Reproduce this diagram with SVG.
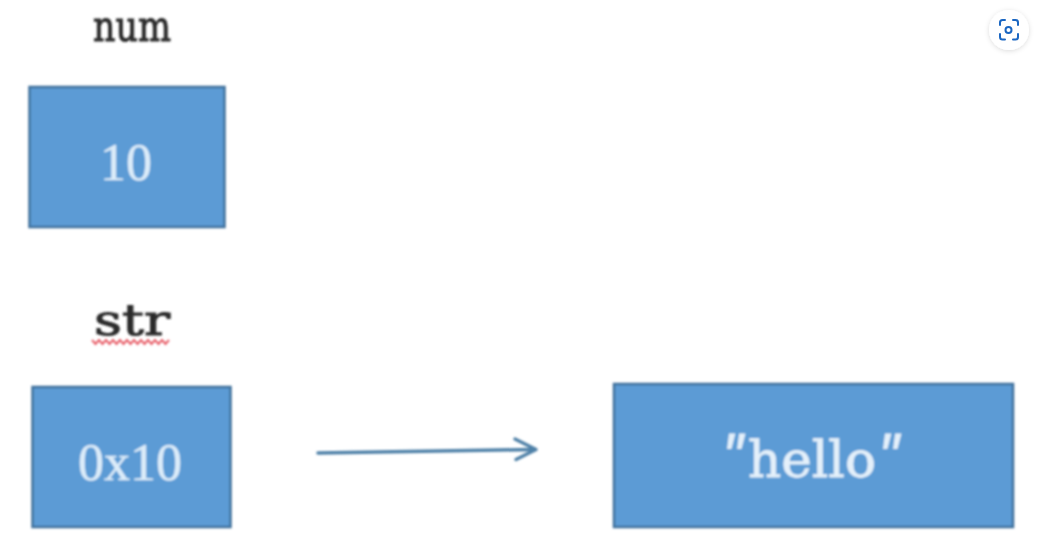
<svg xmlns="http://www.w3.org/2000/svg" width="1038" height="549" viewBox="0 0 1038 549">
  <style>
    .box { fill: #5b9bd5; stroke: #41719c; stroke-width: 2.5; }
    .in { font-family: "Liberation Serif", serif; font-size: 52px; fill: #dcecf9; text-anchor: middle; stroke: #dcecf9; stroke-width: 0.5px; }
    .slab { font-family: "DejaVu Serif", serif; }
    .label { font-size: 42px; fill: #2a2a2a; stroke: #2a2a2a; stroke-width: 1px; }
    .inm { font-size: 50px; fill: #e4f0fa; stroke: #e4f0fa; stroke-width: 0.8px; }
    .quote { font-family: "Liberation Mono", monospace; font-style: italic; font-size: 46px; fill: #e4f0fa; stroke: #e4f0fa; stroke-width: 1.2px; text-anchor: middle; }
    .conn { fill: none; stroke: #4f81a8; stroke-width: 3.5; stroke-linecap: round; stroke-linejoin: round; }
    .soft { filter: url(#soft); }
  </style>
  <defs>
    <filter id="soft" x="-20%" y="-20%" width="140%" height="140%"><feGaussianBlur stdDeviation="0.8"/></filter>
    <filter id="shadow" x="-40%" y="-40%" width="180%" height="180%"><feDropShadow dx="0" dy="1" stdDeviation="2.5" flood-color="#000" flood-opacity="0.14"/></filter>
  </defs>
  <rect width="1038" height="549" fill="#ffffff"/>

  <g id="label-num" class="soft"><text class="slab label" x="93" y="41" textLength="78" lengthAdjust="spacingAndGlyphs">num</text></g>
  <g id="node-num" class="soft">
    <rect class="box" x="29.500" y="87" width="195" height="140"/>
    <text class="in" x="126" y="179.500">10</text>
  </g>

  <g id="label-str" class="soft">
    <text class="slab label" x="94" y="335" textLength="76" lengthAdjust="spacingAndGlyphs">str</text>
    <path d="M92 340l3.500 4 3.500-4 3.500 4 3.500-4 3.500 4 3.500-4 3.500 4 3.500-4 3.500 4 3.500-4 3.500 4 3.500-4 3.500 4 3.500-4 3.500 4 3.500-4 3.500 4 3.500-4 3.500 4 3.500-4 3.500 4 3.500-4" fill="none" stroke="#e8606a" stroke-width="2"/>
  </g>
  <g id="node-str" class="soft">
    <rect class="box" x="32.500" y="387" width="198" height="140"/>
    <text class="in" x="130" y="479.500">0x10</text>
  </g>

  <g id="node-hello" class="soft">
    <rect class="box" x="614" y="384" width="399" height="143"/>
    <text class="slab inm" x="748" y="477" textLength="128" lengthAdjust="spacingAndGlyphs">hello</text>
    <text class="quote" x="733" y="468">″</text>
    <text class="quote" x="889" y="468">″</text>
  </g>

  <g id="connectors" class="soft">
    <path class="conn" d="M318 453 L535 449.500"/>
    <path class="conn" d="M515 439 L536 449.500 L516 459.500"/>
  </g>

  <g id="scan-button">
    <circle cx="1009" cy="30" r="20" fill="#ffffff" filter="url(#shadow)"/>
    <g fill="none" stroke="#1a66c2" stroke-width="2" stroke-linecap="round">
      <path d="M1000 25v-2.500a2.500 2.500 0 0 1 2.500-2.500h2.500"/>
      <path d="M1013 20h2.500a2.500 2.500 0 0 1 2.500 2.500v2.500"/>
      <path d="M1018 34v3a2.500 2.500 0 0 1-2.500 2.500h-2.500"/>
      <path d="M1005 39.500h-2.500a2.500 2.500 0 0 1-2.500-2.500v-3"/>
      <circle cx="1008.500" cy="30" r="3"/>
    </g>
  </g>
</svg>
